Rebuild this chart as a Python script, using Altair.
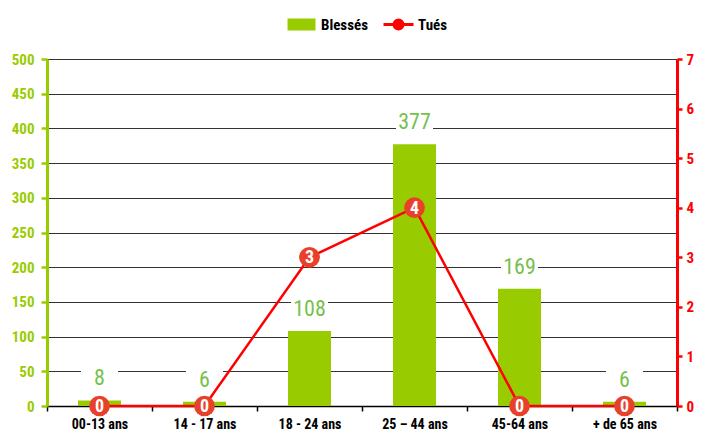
import altair as alt
import pandas as pd

categories = ["00-13 ans", "14 - 17 ans", "18 - 24 ans", "25 – 44 ans", "45-64 ans", "+ de 65 ans"]
blesses = [8, 6, 108, 377, 169, 6]
tues = [0, 0, 3, 4, 0, 0]
series_names = ["Blessés", "Tués"]
left_ticks = [0, 50, 100, 150, 200, 250, 300, 350, 400, 450, 500]
right_ticks = [0, 1, 2, 3, 4, 5, 6, 7]

FONT = "Roboto Condensed, Liberation Sans Narrow, DejaVu Sans Condensed, sans-serif"
GREEN = "#99cc00"
LABEL_GREEN = "#77bf4d"
RED = "#ff0000"
DOT = "#e8402a"

RECT_PATH = "M-0.833,-0.3H0.833V0.3H-0.833Z"
LINE_PATH = "M-1,0H1M-0.3,0A0.3,0.3,0,1,0,0.3,0A0.3,0.3,0,1,0,-0.3,0Z"
BOX_PATH = "M-1,-0.667H1V0.667H-1Z"

df = pd.DataFrame({"cat": categories, "blesses": blesses, "tues": tues})
leg = pd.DataFrame({"serie": series_names})

x = alt.X(
    "cat:N", sort=categories, title=None,
    scale=alt.Scale(paddingInner=0, paddingOuter=0),
    axis=alt.Axis(labelAngle=0, tickBand="extent", domainColor="black", domainWidth=1.5,
                  tickColor="black", tickWidth=1.5, tickSize=5, labelFont=FONT,
                  labelFontSize=14, labelFontWeight="bold", labelColor="black",
                  labelPadding=6, grid=False),
)

yl = alt.Y(
    "blesses:Q", title=None,
    scale=alt.Scale(domain=[0, 500], nice=False),
    axis=alt.Axis(values=left_ticks, grid=True, gridColor="#333333", gridWidth=1,
                  domainColor=GREEN, domainWidth=3, tickColor=GREEN, tickWidth=2.5,
                  tickSize=6, labelColor=GREEN, labelFont=FONT, labelFontSize=15,
                  labelFontWeight="bold", labelPadding=7, minExtent=39),
)

yr = alt.Y(
    "tues:Q", title=None,
    scale=alt.Scale(domain=[0, 7], nice=False),
    axis=alt.Axis(orient="right", values=right_ticks, grid=False,
                  domainColor=RED, domainWidth=3, tickColor=RED, tickWidth=2.5,
                  tickSize=5, labelColor=RED, labelFont=FONT, labelFontSize=15,
                  labelFontWeight="bold", labelPadding=4),
)

base = alt.Chart(df)

bars = base.mark_bar(color=GREEN, width=43).encode(x=x, y=yl)
boxes = base.mark_point(shape=BOX_PATH, size=1369, filled=True, color="white",
                        opacity=1, strokeWidth=0, yOffset=-24).encode(x=x, y=yl)
texts = base.mark_text(dy=-15, baseline="alphabetic", fontSize=22, font=FONT,
                       color=LABEL_GREEN).encode(x=x, y=yl, text="blesses:Q")

legend = alt.Legend(title=None, orient="none", legendX=238, legendY=-51, direction="horizontal",
                    symbolSize=900, symbolStrokeWidth=3, labelFont=FONT, labelFontSize=15,
                    labelFontWeight="bold", labelColor="black", labelOffset=3,
                    columnPadding=9, padding=0)
legend_layer = alt.Chart(leg).transform_filter("false").mark_point(filled=True, opacity=1).encode(
    fill=alt.Fill("serie:N", scale=alt.Scale(domain=series_names, range=[GREEN, RED]), legend=legend),
    stroke=alt.Stroke("serie:N", scale=alt.Scale(domain=series_names, range=[GREEN, RED]), legend=legend),
    shape=alt.Shape("serie:N", scale=alt.Scale(domain=series_names, range=[RECT_PATH, LINE_PATH]), legend=legend),
)

line = base.mark_line(color=RED, strokeWidth=2.5).encode(x=x, y=yr)
dots = base.mark_point(shape="circle", filled=True, size=430, color=DOT, opacity=1,
                       strokeWidth=0).encode(x=x, y=yr)
nums = base.mark_text(color="white", fontSize=18, fontWeight="bold", font=FONT,
                      baseline="middle", dy=1).encode(x=x, y=yr, text="tues:Q")

left = alt.layer(bars, boxes, texts, legend_layer)
right = alt.layer(line, dots, nums)

chart = alt.layer(left, right).resolve_scale(y="independent").properties(
    width=630, height=347, padding=0
).configure_view(stroke=None).configure(background="white")

chart.save("out.html", embed_options={"renderer": "svg", "actions": False})
